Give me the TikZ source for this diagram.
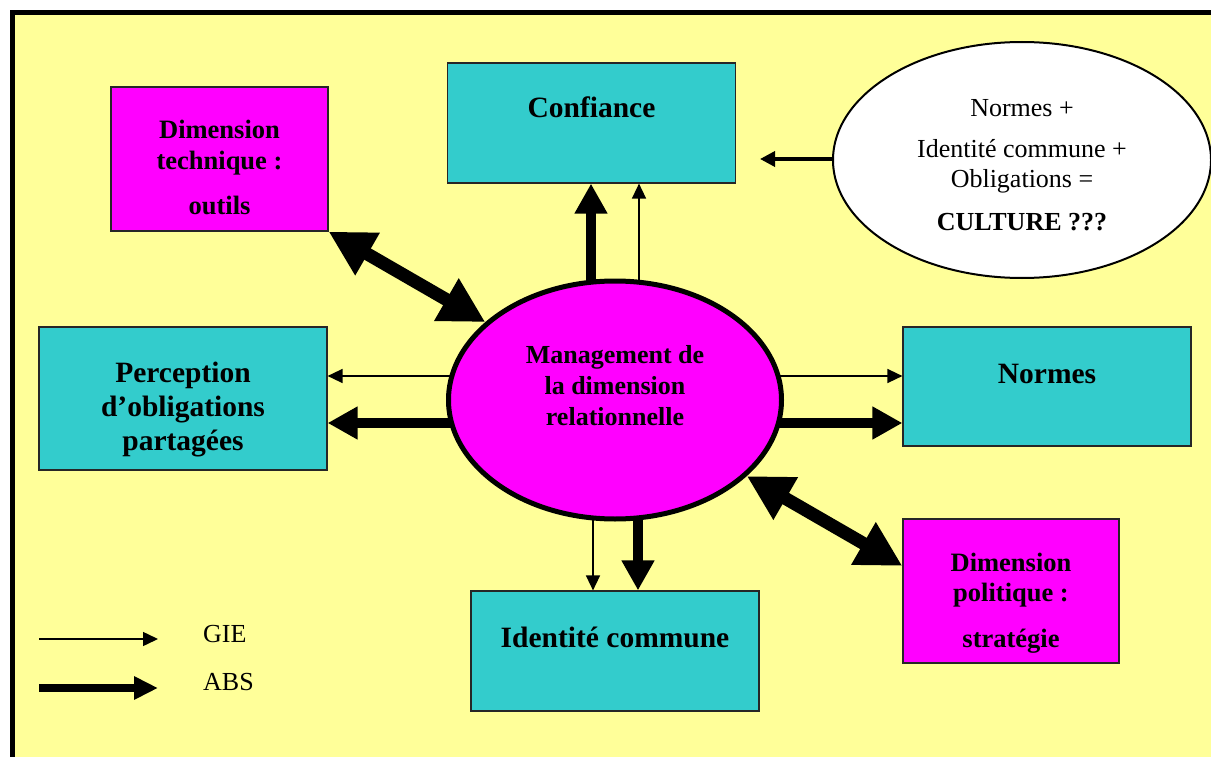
\documentclass[tikz,border=0pt]{standalone}
\usepackage{fontspec}
\setmainfont{Liberation Serif}
\usetikzlibrary{arrows.meta,calc,shapes.geometric}
\definecolor{bgyellow}{HTML}{FFFF99}
\definecolor{boxcyan}{HTML}{33CCCC}
\definecolor{boxmag}{HTML}{FF00FF}
\pgfdeclarelayer{bg}
\pgfdeclarelayer{arr}
\pgfsetlayers{bg,arr,main}
\newcommand\mlines[2]{\vtop{\baselineskip=#1\lineskiplimit=-100pt\lineskip=0pt\relax\let\\\cr\halign{\hfil##\hfil\cr#2\crcr}}}
\tikzset{
  box/.style={draw=black!85, line width=1.2pt, rectangle, inner sep=0pt, text=black},
  cyanbox/.style={box, fill=boxcyan, minimum width=288pt, minimum height=120pt, font=\fontsize{29.5}{34}\selectfont\bfseries},
  magbox/.style={box, fill=boxmag, minimum width=217pt, minimum height=144pt, font=\fontsize{26.5}{30.5}\selectfont\bfseries},
  thinarr/.style={line width=1.5pt, -{Triangle[length=15pt,width=14pt]}},
  thickarr/.style={line width=9.5pt, -{Triangle[length=30pt,width=31pt]}},
  dblarr/.style={line width=13pt, {Triangle[length=45pt,width=46pt]}-{Triangle[length=45pt,width=46pt]}},
  legtext/.style={anchor=base west, inner sep=0pt, font=\fontsize{26}{30}\selectfont}
}
\begin{document}
\begin{tikzpicture}[x=1pt,y=-1pt]
\useasboundingbox (0,0) rectangle (1211,757);
\begin{pgfonlayer}{bg}
\fill[white] (0,0) rectangle (1211,757);
\fill[bgyellow] (12.5,12.5) rectangle (1211,757);
\draw[line width=5pt, line join=miter] (12.5,757) -- (12.5,12.5) -- (1211,12.5);
\end{pgfonlayer}

\node[cyanbox, text height=20pt, text depth=30pt] (conf) at (591.5,123) {Confiance};
\node[cyanbox, minimum height=143pt, text height=20pt, text depth=53pt] (perc) at (183,398.5) {\mlines{34pt}{Perception\\d’obligations\\partagées}};
\node[cyanbox, minimum height=119pt, text height=20pt, text depth=27pt] (norm) at (1047,386.5) {Normes};
\node[cyanbox, text height=20pt, text depth=28pt] (iden) at (615,651) {Identité commune};
\node[magbox, text height=20pt, text depth=60pt] (tech) at (219.5,159) {\mlines{30.5pt}{Dimension\\technique :\\\noalign{\vskip15pt}outils}};
\node[magbox, minimum width=216pt, text height=20pt, text depth=60pt] (pol) at (1011,591) {\mlines{30.5pt}{Dimension\\politique :\\\noalign{\vskip15pt}stratégie}};
\node[ellipse, draw=black, line width=5pt, fill=boxmag, minimum width=333pt, minimum height=238pt, inner sep=0pt, text height=20pt, text depth=94pt, font=\fontsize{26}{31}\selectfont\bfseries] (mgmt) at (615,400) {\mlines{31pt}{Management de\\la dimension\\relationnelle}};
\node[ellipse, draw=black, line width=2pt, fill=white, minimum width=378pt, minimum height=236pt, inner sep=0pt, text height=20pt, text depth=106pt, font=\fontsize{26}{30}\selectfont] (cult) at (1022,160) {\mlines{30pt}{Normes +\\\noalign{\vskip11pt}Identité commune +\\Obligations =\\\noalign{\vskip13pt}\textbf{CULTURE ???}}};

\coordinate (cultTip) at (760,159);
\coordinate (g1a) at (39,639);
\coordinate (g1b) at (158,639);
\coordinate (g2a) at (39,688);
\coordinate (g2b) at (158,688);
\node[legtext] (gie) at (203,642) {GIE};
\node[legtext] (abs) at (203,690) {ABS};

% start points of the straight connectors, inside the central ellipse
\coordinate (nL) at ($(mgmt.north)+(-24,15)$);
\coordinate (nR) at ($(mgmt.north)+(24,15)$);
\coordinate (wT) at ($(mgmt.west)+(15,-24)$);
\coordinate (wB) at ($(mgmt.west)+(15,23)$);
\coordinate (eT) at ($(mgmt.east)+(-15,-24)$);
\coordinate (eB) at ($(mgmt.east)+(-15,23)$);
\coordinate (sL) at ($(mgmt.south)+(-22,-15)$);
\coordinate (sR) at ($(mgmt.south)+(23,-15)$);
\coordinate (cW) at ($(cult.west)+(10,-1)$);

\begin{pgfonlayer}{arr}
\draw[thickarr] (nL) -- (nL |- conf.south);
\draw[thinarr] (nR) -- (nR |- conf.south);
\draw[thinarr] (wT) -- (wT -| perc.east);
\draw[thickarr] (wB) -- (wB -| perc.east);
\draw[thinarr] (eT) -- (eT -| norm.west);
\draw[thickarr] (eB) -- (eB -| norm.west);
\draw[thinarr] (sL) -- (sL |- iden.north);
\draw[thickarr] (sR) -- (sR |- iden.north);
\draw[dblarr] (tech.south east) -- (mgmt.149);
\draw[dblarr] (mgmt.-30) -- (pol.167.5);
\draw[line width=3.5pt, -{Triangle[length=15pt,width=15pt]}] (cW) -- (cultTip);
\end{pgfonlayer}

\draw[thinarr] (g1a) -- (g1b);
\draw[line width=8.5pt, -{Triangle[length=24pt,width=22pt]}] (g2a) -- (g2b);
\end{tikzpicture}
\end{document}
